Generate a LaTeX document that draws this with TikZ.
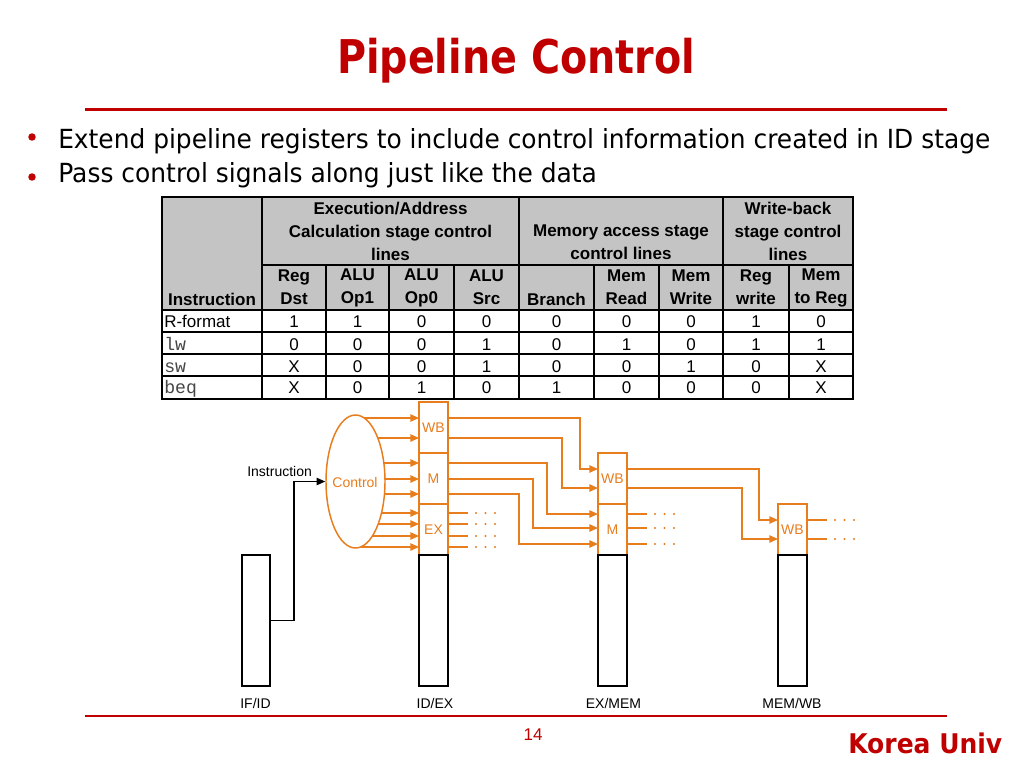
\documentclass[tikz,border=0pt]{standalone}
\usepackage{fontspec}
\usepackage{graphicx}
\setmainfont{Liberation Sans}
\newfontfamily\tahomaf{DejaVu Sans}
\newfontfamily\monof{Liberation Mono}
\usetikzlibrary{shapes.geometric,arrows.meta,calc}
\definecolor{ttlred}{RGB}{192,0,0}
\definecolor{org}{RGB}{232,125,30}
\definecolor{hdrgray}{RGB}{196,196,196}
\definecolor{monogray}{RGB}{70,70,70}
\newcommand\monotxt[1]{{\color{monogray}\monof\fontsize{13.6}{15}\selectfont #1}}
\begin{document}
\begin{tikzpicture}[x=0.75pt,y=-0.75pt,
  tline/.style={draw=black, line width=0.8pt},
  hd/.style={font=\bfseries\fontsize{12.75}{17.25}\selectfont, align=center, inner sep=0pt},
  cellv/.style={font=\fontsize{12.75}{15}\selectfont, inner sep=0pt, anchor=base},
  oline/.style={draw=org, line width=1.1pt},
  oarr/.style={oline, -{Triangle[length=6.5pt,width=5.5pt]}},
  barr/.style={draw=black, line width=1.1pt, -{Triangle[length=6.5pt,width=5.5pt]}},
  regbox/.style={draw=black, line width=1.1pt, minimum width=21.75pt, minimum height=98.25pt, inner sep=0pt, outer sep=0pt, anchor=north west},
  cbox/.style={draw=org, line width=1.1pt, minimum width=21.75pt, minimum height=38.25pt, inner sep=0pt, outer sep=0pt, anchor=north west, text=org, font=\fontsize{10.5}{12}\selectfont},
  lab/.style={font=\fontsize{10.5}{12}\selectfont, inner sep=0pt}]
\useasboundingbox (0,0) rectangle (1024,768);
\fill[white] (0,0) rectangle (1024,768);

% title and bullets
\node[anchor=base, inner sep=0pt, text=ttlred] (title) at (516,73) {\resizebox{268.5pt}{26.5pt}{\tahomaf\bfseries\fontsize{30}{36}\selectfont Pipeline Control}};
\draw[ttlred, line width=1.65pt] (85,109.5) -- (947,109.5);
\fill[ttlred] (32,137) circle (2.8pt);
\fill[ttlred] (32,177) circle (2.8pt);
\node[anchor=base west, inner sep=0pt] (b1) at (58,148.3) {\resizebox{699pt}{15pt}{\tahomaf\fontsize{20}{24}\selectfont Extend pipeline registers to include control information created in ID stage}};
\node[anchor=base west, inner sep=0pt] (b2) at (58,182.5) {\resizebox{404pt}{15pt}{\tahomaf\fontsize{20}{24}\selectfont Pass control signals along just like the data}};

% table
\fill[hdrgray] (162,197) rectangle (853,310);
\foreach \yy in {310,332,354,376} \draw[tline] (162,\yy) -- (853,\yy);
\draw[tline] (262,265) -- (853,265);
\foreach \xx in {262,519,723} \draw[tline] (\xx,197) -- (\xx,399);
\foreach \xx in {326,389,454,594,659,789} \draw[tline] (\xx,265) -- (\xx,399);
\draw[tline] (162,197) rectangle (853,399);

\node[hd] (g1) at (390.5,231) {Execution/Address\\Calculation stage control\\lines};
\node[hd] (g2) at (621,242.5) {Memory access stage\\control lines};
\node[hd] (g3) at (788,231) {Write-back\\stage control\\lines};
\node[hd] (hinst) at (212,299) {Instruction};
\node[hd] (h1) at (294,287.5) {Reg\\Dst};
\node[hd] (h2) at (357.5,287.5) {ALU\\Op1};
\node[hd] (h3) at (421.5,287.5) {ALU\\Op0};
\node[hd] (h4) at (486.5,287.5) {ALU\\Src};
\node[hd] (h5) at (556.5,299) {Branch};
\node[hd] (h6) at (626.5,287.5) {Mem\\Read};
\node[hd] (h7) at (691,287.5) {Mem\\Write};
\node[hd] (h8) at (756,287.5) {Reg\\write};
\node[hd] (h9) at (821,287.5) {Mem\\to Reg};

\foreach \yb/\lab/\vals [count=\r] in {327.7/{R-format}/{1,1,0,0,0,0,0,1,0}, 350/{\monotxt{lw}}/{0,0,0,1,0,1,0,1,1}, 372.3/{\monotxt{sw}}/{X,0,0,1,0,0,1,0,X}, 393.3/{\monotxt{beq}}/{X,0,1,0,1,0,0,0,X}} {
  \node[cellv, anchor=base west] (rl\r) at (164,\yb) {\lab};
  \foreach \v [count=\c] in \vals {
    \pgfmathsetmacro\xc{{294,357.5,421.5,486.5,556.5,626.5,691,756,821}[\c-1]}
    \node[cellv] (v\r-\c) at (\xc,\yb) {\v};
  }
}

% control ellipse and control boxes
\node[ellipse, draw=org, line width=1.1pt, minimum width=44.25pt, minimum height=99.75pt, inner sep=0pt] (ctl) at (355.5,481.5) {};
\node[lab, text=org, anchor=base] (ctltext) at (355,487.5) {Control};

\node[cbox] (idexwb) at (419,402) {WB};
\node[cbox] (idexm) at (419,453) {M};
\node[cbox] (idexex) at (419,504) {EX};
\node[cbox] (exmemwb) at (598,453) {WB};
\node[cbox] (exmemm) at (598,504) {M};
\node[cbox] (memwbwb) at (778,504) {WB};

% arrows out of the control unit
\foreach \yy [count=\i] in {418,438,463,479,494,513,524,536,547} {
  \coordinate (e\i) at ({355.5+29.5*sqrt(1-((\yy-481.5)/66.5)*((\yy-481.5)/66.5))},\yy);
}
\foreach \i in {1,2} \draw[oarr] (e\i) -- (e\i -| idexwb.west);
\foreach \i in {3,4,5} \draw[oarr] (e\i) -- (e\i -| idexm.west);
\foreach \i in {6,7,8,9} \draw[oarr] (e\i) -- (e\i -| idexex.west);

% bends
\coordinate (k1) at (580,469);
\coordinate (k2) at (562,488);
\coordinate (k3) at (547,514);
\coordinate (k4) at (533,528);
\coordinate (k5) at (519,544);
\coordinate (k6) at (759,520);
\coordinate (k7) at (742,539);
\draw[oarr] (e1 -| idexwb.east) -| (k1) -- (k1 -| exmemwb.west);
\draw[oarr] (e2 -| idexwb.east) -| (k2) -- (k2 -| exmemwb.west);
\draw[oarr] (e3 -| idexm.east) -| (k3) -- (k3 -| exmemm.west);
\draw[oarr] (e4 -| idexm.east) -| (k4) -- (k4 -| exmemm.west);
\draw[oarr] (e5 -| idexm.east) -| (k5) -- (k5 -| exmemm.west);
\draw[oarr] (k1 -| exmemwb.east) -| (k6) -- (k6 -| memwbwb.west);
\draw[oarr] (k2 -| exmemwb.east) -| (k7) -- (k7 -| memwbwb.west);

% stubs with dots
\foreach \s/\n in {e6/idexex,e7/idexex,e8/idexex,e9/idexex,k3/exmemm,k4/exmemm,k5/exmemm,k6/memwbwb,k7/memwbwb} {
  \coordinate (st) at (\s -| \n.east);
  \draw[oline] (st) -- ++(20,0);
  \foreach \d in {28,37.5,47} \fill[org] ($(st)+(\d,0)$) circle (0.85pt);
}

% pipeline registers
\node[regbox, minimum width=21pt] (ifid) at (242,555) {};
\node[regbox] (idex) at (419,555) {};
\node[regbox] (exmem) at (598,555) {};
\node[regbox] (memwb) at (778,555) {};

% instruction wire
\node[lab, anchor=base west] (instr) at (247,476) {Instruction};
\coordinate (iw) at (294,620.5);
\draw[barr] (ifid.east) -- (iw) |- (ctl.west);

% register labels
\node[lab, anchor=base] (lifid) at (255.5,708) {IF/ID};
\node[lab, anchor=base] (lidex) at (435,708) {ID/EX};
\node[lab, anchor=base] (lexmem) at (613.5,708) {EX/MEM};
\node[lab, anchor=base] (lmemwb) at (792,708) {MEM/WB};

% footer
\draw[ttlred, line width=1.65pt] (85,716) -- (947,716);
\node[anchor=base, inner sep=0pt, text=ttlred, font=\fontsize{12.75}{15}\selectfont] (pg) at (533,740.7) {14};
\node[anchor=base west, inner sep=0pt, text=ttlred] (ku) at (848,753.3) {\resizebox{115.5pt}{15.45pt}{\tahomaf\bfseries\fontsize{20}{24}\selectfont Korea Univ}};
\end{tikzpicture}
\end{document}
